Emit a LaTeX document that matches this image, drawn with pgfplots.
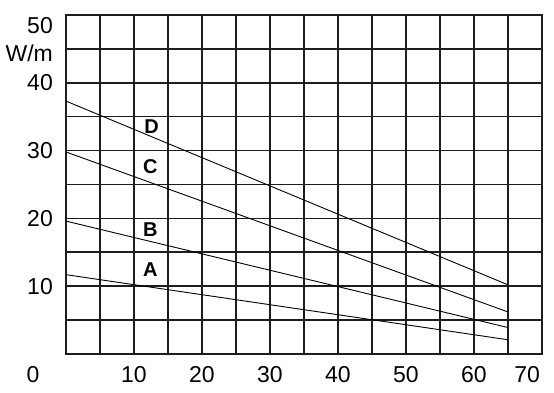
\documentclass[border=0pt]{standalone}
\usepackage{pgfplots}
\pgfplotsset{compat=1.18}
\usepackage{fontspec}
\setmainfont{Liberation Sans}
\definecolor{gridc}{HTML}{1E1E1E}
\begin{document}
\begin{tikzpicture}[x=1pt,y=1pt]
\useasboundingbox (0,0) rectangle (554,393);
\begin{axis}[
  at={(66pt,39pt)}, anchor=south west,
  scale only axis, width=476pt, height=339pt,
  xmin=0, xmax=70, ymin=0, ymax=50,
  xtick={0,5,...,70}, ytick={0,5,...,50},
  xticklabels={,,10,,20,,30,,40,,50,,60,,},
  yticklabels={,,10,,20,,30,,40,,},
  grid=major,
  major grid style={gridc, line width=1.6pt},
  axis line style={gridc, line width=1.6pt},
  major tick length=0pt,
  clip=false,
  /pgf/number format/assume math mode=true,
  ticklabel style={font=\fontsize{23}{27}\selectfont, inner sep=0pt},
  xticklabel style={anchor=north, yshift=-12pt},
  yticklabel style={anchor=east, xshift=-13pt},
]
\addplot[black, line width=0.9pt] coordinates {(0,11.7) (65,2.1)};
\addplot[black, line width=0.9pt] coordinates {(0,19.6) (65,3.9)};
\addplot[black, line width=0.9pt] coordinates {(0,29.8) (65,6.2)};
\addplot[black, line width=0.9pt] coordinates {(0,37.3) (65,10.2)};
\node[font=\fontsize{20}{24}\selectfont\bfseries] at (axis cs:12.6,33.6) {D};
\node[font=\fontsize{20}{24}\selectfont\bfseries] at (axis cs:12.4,27.6) {C};
\node[font=\fontsize{20}{24}\selectfont\bfseries] at (axis cs:12.4,18.3) {B};
\node[font=\fontsize{20}{24}\selectfont\bfseries] at (axis cs:12.4,12.5) {A};
\node[font=\fontsize{23}{27}\selectfont, anchor=east, inner sep=0pt, xshift=-13pt] at (axis cs:0,48.4) {50};
\node[font=\fontsize{23}{27}\selectfont, anchor=east, inner sep=0pt, xshift=-13pt] at (axis cs:0,44.4) {W/m};
\node[font=\fontsize{23}{27}\selectfont, anchor=north, inner sep=0pt, yshift=-12pt] at (axis cs:-4.85,0) {0};
\node[font=\fontsize{23}{27}\selectfont, anchor=north, inner sep=0pt, yshift=-12pt] at (axis cs:67.8,0) {70};
\end{axis}
\end{tikzpicture}
\end{document}
